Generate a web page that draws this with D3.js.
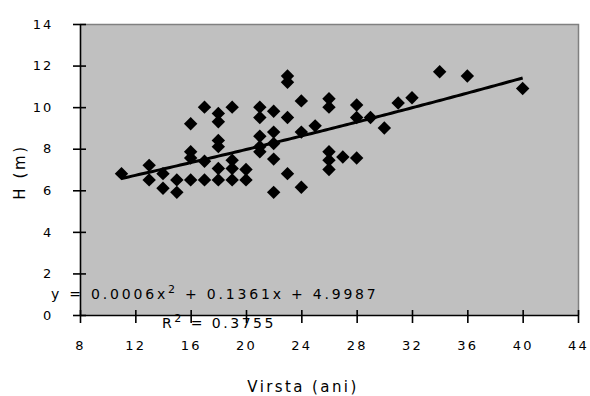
<!DOCTYPE html>
<html>
<head>
<meta charset="utf-8">
<script src="https://cdn.jsdelivr.net/npm/d3@7/dist/d3.min.js"></script>
<style>
  html, body { margin: 0; padding: 0; background: #ffffff; }
  svg { display: block; }
  text { font-family: "DejaVu Sans", sans-serif; fill: #000; }
</style>
</head>
<body>
<svg id="chart" width="590" height="396"></svg>
<script>
// Tree age (years) against height (m)
const ages = [11, 13, 13, 14, 14, 15, 15, 16, 16, 16, 16, 17, 17, 17, 18, 18, 18, 18, 18, 18,
              19, 19, 19, 19, 20, 20, 21, 21, 21, 21, 21, 22, 22, 22, 22, 22, 23, 23, 23, 23,
              24, 24, 24, 25, 26, 26, 26, 26, 26, 27, 28, 28, 28, 29, 30, 31, 32, 34, 36, 40];
const heights = [6.8, 7.2, 6.5, 6.8, 6.1, 6.5, 5.9, 9.2, 7.85, 7.55, 6.5, 10.0, 7.4, 6.5, 9.7, 9.3, 8.4, 8.1, 7.05, 6.5,
                 10.0, 7.45, 7.05, 6.5, 7.0, 6.5, 10.0, 9.5, 8.6, 8.1, 7.85, 9.8, 8.8, 8.25, 7.5, 5.9, 11.5, 11.2, 9.5, 6.8,
                 10.3, 8.8, 6.15, 9.1, 10.4, 10.0, 7.85, 7.45, 7.0, 7.6, 10.1, 9.5, 7.55, 9.5, 9.0, 10.2, 10.45, 11.7, 11.5, 10.9];

// Polynomial trend (order 2): a*x^2 + b*x + c
const trendCoef = [0.0006, 0.1361, 4.9987];
const trendRange = [11, 40];
const rSquared = "0.3755";

const xTicks = [8, 12, 16, 20, 24, 28, 32, 36, 40, 44];
const yTicks = [0, 2, 4, 6, 8, 10, 12, 14];
const xTitle = "Virsta (ani)";
const yTitle = "H (m)";

const svg = d3.select("#chart");
const plotL = 80, plotR = 578, plotT = 24, plotB = 315;

const x = d3.scaleLinear().domain([8, 44]).range([plotL, plotR]);
const y = d3.scaleLinear().domain([0, 14]).range([plotB, plotT]);

// plot area
svg.append("rect")
  .attr("x", plotL).attr("y", plotT)
  .attr("width", plotR - plotL).attr("height", plotB - plotT)
  .attr("fill", "#c0c0c0");
svg.append("path")
  .attr("d", `M${plotL},${plotT + 0.5}H${plotR + 0.5}V${plotB}`)
  .attr("fill", "none").attr("stroke", "#808080").attr("stroke-width", 1.5);

// markers
const pts = ages.map((a, i) => ({ a, h: heights[i] }));
const diamond = d3.symbol().type(d3.symbolSquare).size(90);
svg.append("g").selectAll("path")
  .data(pts).join("path")
  .attr("d", diamond)
  .attr("transform", d => `translate(${x(d.a)},${y(d.h)}) rotate(45)`)
  .attr("fill", "#000");

// trendline
const trendX = d3.range(trendRange[0], trendRange[1] + 0.001, 0.25);
const trend = v => trendCoef[0] * v * v + trendCoef[1] * v + trendCoef[2];
svg.append("path")
  .datum(trendX)
  .attr("d", d3.line().x(v => x(v)).y(v => y(trend(v))))
  .attr("fill", "none").attr("stroke", "#000").attr("stroke-width", 3);

// equation and R²
const eq = svg.append("text")
  .attr("x", 51).attr("y", 299)
  .style("font-size", "14px").style("letter-spacing", "2.8px");
eq.append("tspan").text(`y = ${trendCoef[0]}x`);
eq.append("tspan").attr("dy", -6).style("font-size", "11px").text("2");
eq.append("tspan").attr("dy", 6).text(` + ${trendCoef[1]}x + ${trendCoef[2]}`);

const r2 = svg.append("text")
  .attr("x", 162).attr("y", 328)
  .style("font-size", "14px").style("letter-spacing", "2.5px");
r2.append("tspan").text("R");
r2.append("tspan").attr("dy", -6).style("font-size", "11px").text("2");
r2.append("tspan").attr("dy", 6).text(` = ${rSquared}`);

// axes
const xAxis = svg.append("g")
  .attr("transform", `translate(0,${plotB})`)
  .call(d3.axisBottom(x).tickValues(xTicks).tickSizeOuter(0).tickSizeInner(8).tickPadding(18));
xAxis.select(".domain").attr("stroke", "#000").attr("stroke-width", 1.6);
xAxis.selectAll(".tick line").attr("y1", -5).attr("y2", 8).attr("stroke-width", 1.6);
xAxis.selectAll(".tick text")
  .style("font-size", "13px").style("letter-spacing", "2.2px")
  .style("font-family", "DejaVu Sans, sans-serif");

const yAxis = svg.append("g")
  .attr("transform", `translate(${plotL},0)`)
  .call(d3.axisLeft(y).tickValues(yTicks).tickSizeOuter(0).tickSizeInner(7).tickPadding(20));
yAxis.select(".domain").attr("stroke", "#000").attr("stroke-width", 1.6);
yAxis.selectAll(".tick line").attr("x1", -7).attr("x2", 6).attr("stroke-width", 1.6);
yAxis.selectAll(".tick text")
  .style("font-size", "13px").style("letter-spacing", "1.8px")
  .style("font-family", "DejaVu Sans, sans-serif");

// axis titles
svg.append("text")
  .attr("x", 303).attr("y", 392)
  .attr("text-anchor", "middle")
  .style("font-size", "15px").style("letter-spacing", "2.4px")
  .text(xTitle);
svg.append("text")
  .attr("transform", "translate(25,172) rotate(-90)")
  .attr("text-anchor", "middle")
  .style("font-size", "15px").style("letter-spacing", "2.6px")
  .text(yTitle);
</script>
</body>
</html>
